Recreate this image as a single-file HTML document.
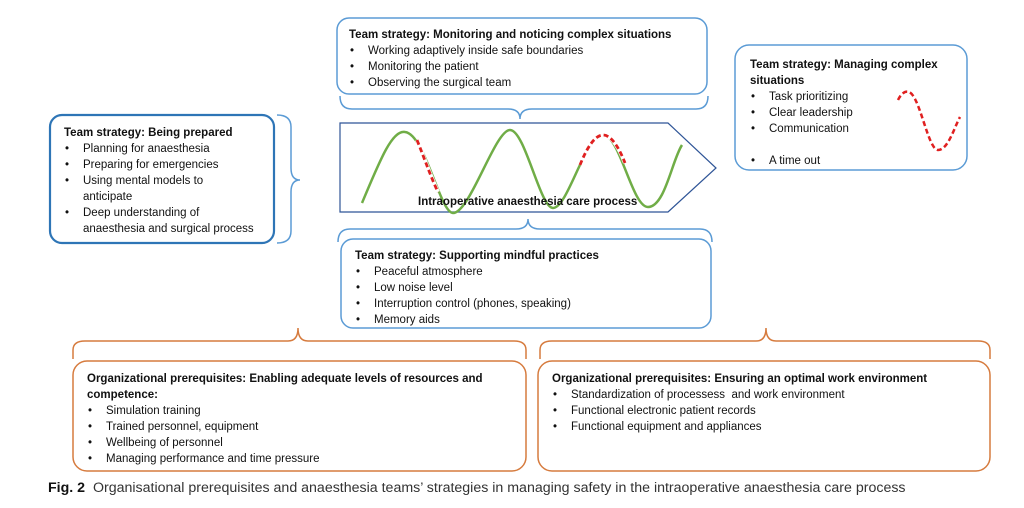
<!DOCTYPE html>
<html><head><meta charset="utf-8"><style>
body{margin:0;background:#fff;}
#c{position:relative;width:1024px;height:508px;overflow:hidden;font-family:"Liberation Sans",sans-serif;font-size:11px;color:#111;}
.t{position:absolute;line-height:16px;}
.t b{font-weight:bold;}
.t ul{margin:0;padding:0;list-style:none;}
.t li{position:relative;padding-left:19px;}
.t li:before{content:"•";position:absolute;left:1px;}
svg{position:absolute;left:0;top:0;}
</style></head><body><div id="c">
<svg width="1024" height="508">
<g fill="none" stroke="#5b9bd5" stroke-width="1.5">
<rect x="337" y="18" width="370" height="76" rx="12"/>
<rect x="735" y="45" width="232" height="125" rx="14"/>
<rect x="50" y="115" width="224" height="128" rx="12" stroke-width="2.2" stroke="#2e75b6"/>
<rect x="341" y="239" width="370" height="89" rx="12"/>
<path d="M340 96 q0 13 12 13 H508 q12 0 12 10 q0 -10 12 -10 H696 q12 0 12 -13"/>
<path d="M338 242 q0 -13 12 -13 H516 q12 0 12 -10 q0 10 12 10 H700 q12 0 12 13"/>
<path d="M277 115 q14 0 14 12 V168 q0 12 9 12 q-9 0 -9 12 V231 q0 12 -14 12"/>
</g>
<path d="M340 123 H668 L716 168 L668 212 H340 Z" fill="none" stroke="#2f5597" stroke-width="1.2"/>
<path d="M362 203 C380 160 392 130 405 132 C425 134 440 213 453 213 C470 213 495 130 510 130 C525 130 540 208 553 208 C568 208 585 135 603 135 C620 135 632 207 648 207 C665 207 672 160 682 145" fill="none" stroke="#70ad47" stroke-width="2.5"/>
<path d="M417 140 C425 160 432 180 438 192" fill="none" stroke="#fff" stroke-width="4"/>
<path d="M417 140 C425 160 432 180 438 192" fill="none" stroke="#e02020" stroke-width="2.8" stroke-dasharray="5,3"/>
<path d="M580 165 C590 140 598 135 603 135 C612 135 620 150 625 163" fill="none" stroke="#fff" stroke-width="4"/>
<path d="M580 165 C590 140 598 135 603 135 C612 135 620 150 625 163" fill="none" stroke="#e02020" stroke-width="2.8" stroke-dasharray="5,3"/>
<path d="M898 100 C902 92 906 91 909 92 C920 96 928 150 938 150 C948 150 954 128 960 117" fill="none" stroke="#e02020" stroke-width="2.5" stroke-dasharray="5,3"/>
<g fill="none" stroke="#d67b3e" stroke-width="1.5">
<rect x="73" y="361" width="453" height="110" rx="14"/>
<rect x="538" y="361" width="452" height="110" rx="14"/>
<path d="M73 359 V350 q0 -9 12 -9 H288 q10 0 10 -13 q0 13 10 13 H514 q12 0 12 9 V359"/>
<path d="M540 359 V350 q0 -9 12 -9 H756 q10 0 10 -13 q0 13 10 13 H978 q12 0 12 9 V359"/>
</g>
</svg>
<div class="t" style="left:349px;top:27px;font-size:11.5px"><b>Team strategy: Monitoring and noticing complex situations</b><ul><li>Working adaptively inside safe boundaries</li><li>Monitoring the patient</li><li>Observing the surgical team</li></ul></div>
<div class="t" style="left:750px;top:57px;width:200px;font-size:11.5px"><b>Team strategy: Managing complex<br>situations</b><ul><li>Task prioritizing</li><li>Clear leadership</li><li>Communication</li><li style="margin-top:16px">A time out</li></ul></div>
<div class="t" style="left:64px;top:125px;width:208px;font-size:11.5px"><b>Team strategy: Being prepared</b><ul><li>Planning for anaesthesia</li><li>Preparing for emergencies</li><li>Using mental models to<br>anticipate</li><li>Deep understanding of<br>anaesthesia and surgical process</li></ul></div>
<div class="t" style="left:418px;top:194px;font-size:11.5px"><b>Intraoperative anaesthesia care process</b></div>
<div class="t" style="left:355px;top:248px;font-size:11.5px"><b>Team strategy: Supporting mindful practices</b><ul><li>Peaceful atmosphere</li><li>Low noise level</li><li>Interruption control (phones, speaking)</li><li>Memory aids</li></ul></div>
<div class="t" style="left:87px;top:371px;width:430px;font-size:11.5px"><b>Organizational prerequisites: Enabling adequate levels of resources and<br>competence:</b><ul><li>Simulation training</li><li>Trained personnel, equipment</li><li>Wellbeing of personnel</li><li>Managing performance and time pressure</li></ul></div>
<div class="t" style="left:552px;top:371px;width:436px;font-size:11.5px"><b>Organizational prerequisites: Ensuring an optimal work environment</b><ul><li>Standardization of processess&nbsp; and work environment</li><li>Functional electronic patient records</li><li>Functional equipment and appliances</li></ul></div>
<div class="t" style="left:48px;top:478px;font-size:14.2px;line-height:20px;color:#333;white-space:nowrap"><b style="color:#111">Fig. 2</b>&nbsp; Organisational prerequisites and anaesthesia teams’ strategies in managing safety in the intraoperative anaesthesia care process</div>
</div></body></html>
